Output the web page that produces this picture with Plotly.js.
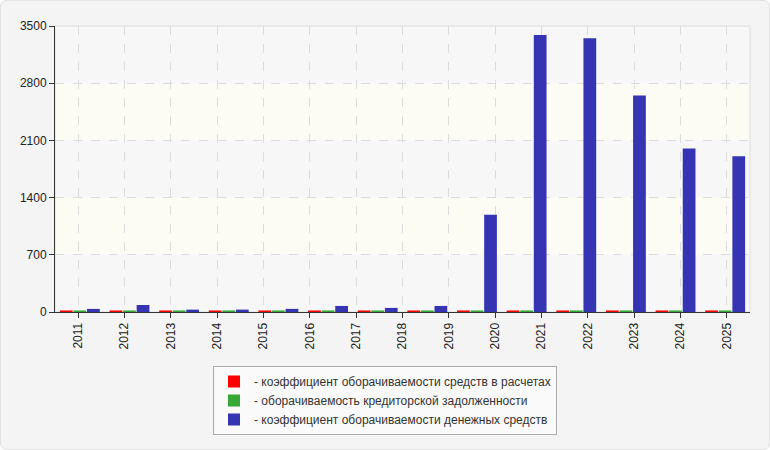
<!DOCTYPE html>
<html>
<head>
<meta charset="utf-8">
<script src="https://cdn.plot.ly/plotly-3.0.1.min.js"></script>
<style>
  html, body { margin: 0; padding: 0; background: #ffffff; }
  #wrap { position: relative; width: 770px; height: 450px; }
  #frame {
    position: absolute; left: 0; top: 0; width: 770px; height: 450px;
    box-sizing: border-box; border: 1px solid #e2e2e2; border-radius: 6px;
    background: #f4f4f4;
  }
  #chart { position: absolute; left: 0; top: 0; width: 770px; height: 450px; }
</style>
</head>
<body>
<div id="wrap">
  <div id="frame"></div>
  <div id="chart"></div>
</div>
<script>
// tick labels on the lower axis (15 years), bars come in 14 groups
let years = ["2011", "2012", "2013", "2014", "2015", "2016", "2017", "2018",
             "2019", "2020", "2021", "2022", "2023", "2024", "2025"];

let settlements = [19, 19, 19, 19, 19, 19, 19, 19, 19, 19, 19, 19, 19, 19];
let payables    = [19, 19, 19, 19, 19, 19, 19, 19, 19, 19, 19, 19, 19, 19];
let cash        = [38, 86, 29, 29, 38, 74, 50, 74, 1190, 3390, 3350, 2650, 2000, 1905];

let yTicks = [0, 700, 1400, 2100, 2800, 3500];

let groups = cash.map((v, i) => i);
let font = "Liberation Sans, Arial, sans-serif";

function barTrace(values, color, name) {
  return {
    x: groups,
    y: values,
    type: "bar",
    name: name,
    marker: {color: color, line: {width: 0}},
    hoverinfo: "y",
  };
}

let data = [
  barTrace(settlements, "#ff0000", "- коэффициент оборачиваемости средств в расчетах"),
  barTrace(payables, "#36a836", "- оборачиваемость кредиторской задолженности"),
  barTrace(cash, "#3535b4", "- коэффициент оборачиваемости денежных средств"),
  {
    // carries the year axis
    x: years.map((v, i) => i),
    y: years.map(() => 0),
    xaxis: "x2",
    type: "scatter",
    mode: "markers",
    marker: {opacity: 0},
    hoverinfo: "skip",
    showlegend: false,
  },
];

// light bands behind every second grid step
let bands = [];
for (let i = 1; i < yTicks.length - 1; i += 2) {
  bands.push({
    type: "rect", xref: "paper", yref: "y", layer: "below",
    x0: 0, x1: 1, y0: yTicks[i], y1: yTicks[i + 1],
    fillcolor: "#fcfcf5", line: {width: 0},
  });
}
bands.push({
  type: "rect", xref: "paper", yref: "paper", layer: "below",
  x0: 0, x1: 1, y0: 0, y1: 1,
  line: {color: "#dddddd", width: 1},
});

let layout = {
  width: 770,
  height: 450,
  autosize: false,
  margin: {l: 55, r: 20, t: 26, b: 138, autoexpand: false},
  paper_bgcolor: "rgba(0,0,0,0)",
  plot_bgcolor: "#f7f7f7",
  font: {family: font, size: 12, color: "#222"},
  barmode: "group",
  bargap: 0.18,
  bargroupgap: 0.06,
  showlegend: true,
  shapes: bands,
  xaxis: {
    type: "linear",
    range: [-0.5, groups.length - 0.5],
    showticklabels: false,
    ticks: "",
    showgrid: false,
    zeroline: false,
    showline: true,
    linecolor: "#333",
    linewidth: 1,
    fixedrange: true,
  },
  xaxis2: {
    type: "linear",
    overlaying: "x",
    anchor: "y",
    side: "bottom",
    range: [-0.5, years.length - 0.5],
    tickmode: "array",
    tickvals: years.map((v, i) => i),
    ticktext: years,
    tickangle: -90,
    ticks: "outside",
    ticklen: 5,
    tickcolor: "#333",
    tickfont: {family: font, size: 12, color: "#222"},
    showgrid: true,
    gridcolor: "#dcdcdc",
    griddash: "dash",
    zeroline: false,
    showline: false,
    fixedrange: true,
  },
  yaxis: {
    range: [0, 3500],
    tickmode: "array",
    tickvals: yTicks,
    ticks: "outside",
    ticklen: 5,
    tickcolor: "#333",
    tickfont: {family: font, size: 12, color: "#222"},
    showgrid: true,
    gridcolor: "#dcdcdc",
    griddash: "dash",
    zeroline: false,
    showline: true,
    linecolor: "#333",
    fixedrange: true,
  },
  legend: {
    xref: "container",
    yref: "container",
    x: 0.5,
    xanchor: "center",
    y: 1 - 366 / 450,
    yanchor: "top",
    bgcolor: "#fafafa",
    bordercolor: "#aaaaaa",
    borderwidth: 1,
    font: {family: font, size: 12, color: "#333"},
    tracegroupgap: 0,
  },
};

Plotly.newPlot("chart", data, layout, {
  displayModeBar: false,
  staticPlot: true,
});
</script>
</body>
</html>
